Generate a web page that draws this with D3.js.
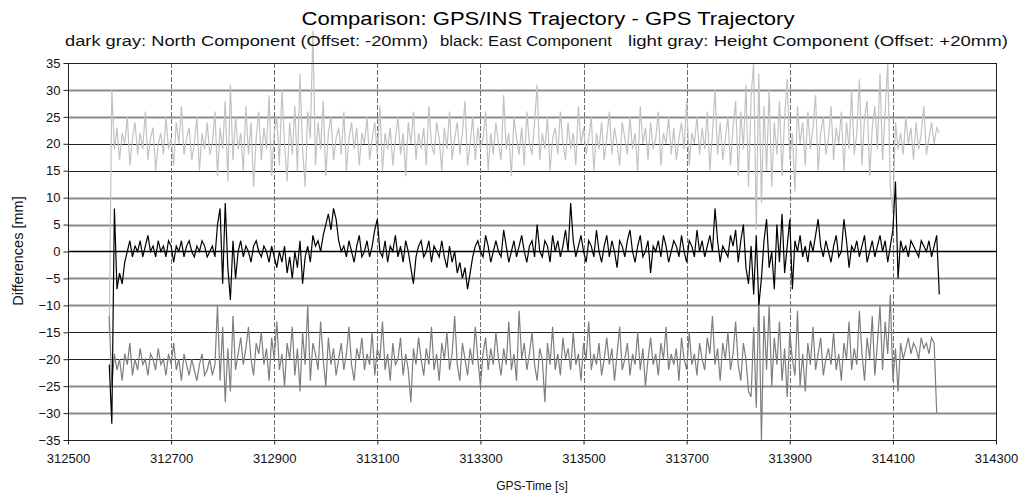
<!DOCTYPE html>
<html>
<head>
<meta charset="utf-8">
<script src="https://cdn.jsdelivr.net/npm/d3@7"></script>
<style>
  html, body { margin: 0; padding: 0; background: #fff; }
  svg { display: block; font-family: "Liberation Sans", Arial, sans-serif; }
</style>
</head>
<body>
<svg id="chart" width="1030" height="497"></svg>
<script>
// ---------- data ----------
const titleText = "Comparison: GPS/INS Trajectory - GPS Trajectory";
const subtitleParts = [
  "dark gray: North Component (Offset: -20mm)",
  "black: East Component",
  "light gray: Height Component (Offset: +20mm)"
];
const xTickValues = [312500, 312700, 312900, 313100, 313300, 313500, 313700, 313900, 314100, 314300];
const yTickValues = [-35, -30, -25, -20, -15, -10, -5, 0, 5, 10, 15, 20, 25, 30, 35];
const xLabel = "GPS-Time [s]";
const yLabel = "Differences [mm]";

// sampling epochs (s): first epoch and interval of the plotted samples
const epochStart = 312580;
const epochStep = 5;

// East component (black), mm
const eastValues = [
  -21, -32, 8, -7, -4, -6, -2, 0, 2, -1,
  1, 0, 2, -1, 1, 3, 0, 1, -1, 2,
  0, 1, -1, 2, 1, -2, 1, 0, 2, -1,
  1, 2, 0, -1, 1, 0, 2, 1, -1, 0,
  1, -1, 5, 8, -6, 9, -3, -9, 2, -5,
  0, 2, -1, 1, 0, -2, 1, 2, 0, -1,
  1, 0, -2, 1, -1, -3, 0, -2, 1, -4,
  -1, -5, 0, -3, 2, -6, -1, 1, -2, 3,
  1, 2, 0, 3, 5, 7, 4, 8, 6, 2,
  0, 1, -1, 2, 0, -2, 1, 3, -1, 0,
  2, -1, 1, 4, 6, 0, -1, 2, -2, 1,
  0, 3, -1, 1, -2, 2, 0, -3, -6, -1,
  1, 2, -1, 0, 2, -2, 1, 0, -1, 2,
  -1, -3, 1, -2, 0, -4, -2, -5, -3, -7,
  -4, -1, 1, 2, 0, -1, 3, 1, -2, 0,
  2, 0, -1, 4, 1, -2, 0, 2, -1, 1,
  3, 0, -2, 1, 2, -1, 5, 0, -1, 2,
  1, -2, 3, 0, 2, -1, 1, 4, 0, 9,
  2, -1, 1, 3, 0, -2, 2, 1, -1, 4,
  0, -2, 1, 3, -1, 2, 0, -3, 2, 1,
  -1, 2, 4, 0, -2, 1, 3, -1, 0, 2,
  -4, 1, 0, 2, -1, 3, 1, -2, 0, 2,
  1, -1, 3, 0, -2, 2, 1, -1, 4, 0,
  2, -1, 1, 3, 0, 8, 2, -2, 1, 0,
  -1, 3, 1, 4, -2, 2, 5, -3, -6, 1,
  -8, 3, -10, -5, 2, 6, -3, 0, -7, 5,
  -2, 7, -4, 1, 6, -7, 2, 0, 3, -1,
  1, -2, 2, 0, 3, 6, 1, -1, 2, 0,
  -2, 1, 3, -1, 0, 6, 2, -3, 1, 0,
  2, -1, 1, 3, -2, 0, 2, -1, 1, 3,
  0, 2, -2, 1, 4, 13, -5, 2, 0, 1,
  -1, 2, 1, 0, -1, 2, 1, 0, 2, -1,
  1, 3, -8
];

// North component (dark gray), mm, plotted with -20 mm offset
const northValues = [
  -12, -25, -19, -22, -20, -24, -19, -21, -17, -23,
  -20, -22, -18, -21, -20, -23, -19, -20, -22, -18,
  -21, -20, -23, -19, -21, -17, -22, -20, -24, -19,
  -21, -23, -20, -22, -24, -21, -19, -23, -22, -20,
  -23, -21, -10, -24, -14, -28, -18, -26, -12, -22,
  -19, -16, -21, -18, -14, -20, -23, -17, -19, -15,
  -21, -18, -24, -16, -20, -13, -22, -19, -25, -17,
  -20, -14, -23, -18, -26, -15, -21, -10, -24, -17,
  -19, -22, -13, -20, -25, -16, -21, -18, -23, -20,
  -17, -22, -19, -14, -21, -24, -18, -20, -16, -22,
  -19, -21, -15, -23, -18, -20, -13, -22, -19, -24,
  -17, -21, -20, -16, -23, -19, -22, -28, -18, -21,
  -16, -20, -23, -18, -21, -14, -22, -19, -24, -17,
  -20, -15, -22, -19, -12, -21, -24, -17, -20, -23,
  -18, -21, -14, -20, -25, -19, -16, -22, -18, -21,
  -15, -20, -23, -18, -21, -13, -22, -19, -24, -11,
  -20, -17, -22, -19, -15, -21, -24, -18, -20, -28,
  -17, -21, -14, -22, -19, -23, -16, -20, -18, -22,
  -15, -21, -19, -24, -17, -20, -13, -22, -19, -21,
  -17, -23, -20, -16, -21, -18, -24, -19, -14, -22,
  -20, -17, -23, -19, -21, -15, -22, -18, -25, -20,
  -16, -21, -19, -23, -17, -20, -14, -22, -19, -21,
  -18, -24, -16, -20, -22, -15, -21, -19, -23, -17,
  -20, -22, -16, -19, -12, -21, -18, -24, -17, -20,
  -15, -22, -19, -13, -21, -24, -17, -20, -26, -27,
  -14, -29, -8, -35, -12, -22, -10, -25, -16, -21,
  -13, -24, -18, -27, -15, -20, -23, -11, -25, -19,
  -26, -17, -21, -14, -22, -19, -16, -23, -20, -18,
  -21, -15, -22, -19, -24, -17, -20, -13, -22, -18,
  -21, -11, -19, -24, -16, -20, -12, -23, -17, -10,
  -22, -13, -19, -8, -24, -18, -26, -17, -20, -18,
  -16, -19, -17, -18, -20, -16, -18, -17, -19, -16,
  -17, -30
];

// Height component (light gray), mm, plotted with +20 mm offset
const heightValues = [
  -15, 30, 19, 23, 17, 22, 20, 25, 16, 21,
  24, 18, 22, 19, 26, 17, 21, 23, 15, 20,
  22, 18, 25, 19, 21, 16, 24, 20, 27, 18,
  21, 23, 17, 20, 25, 15, 22, 19, 24, 18,
  20, 26, 14, 23, 19, 28, 13, 31, 17, 25,
  19, 22, 15, 27, 18, 24, 12, 21, 26, 17,
  23, 19, 29, 14, 22, 25, 16, 30, 20, 13,
  24, 18, 27, 15, 33, 19, 12, 26, 21, 41,
  16, 24, 19, 28, 14, 22, 25, 17, 21, 23,
  18, 26, 15, 21, 24, 19, 23, 16, 22, 20,
  25, 17, 21, 24, 18, 27, 15, 22, 19, 23,
  16, 21, 25, 18, 22, 14, 24, 20, 26, 17,
  22, 19, 23, 16, 27, 20, 18, 24, 21, 15,
  23, 19, 26, 17, 21, 24, 18, 22, 28, 16,
  20, 25, 17, 23, 19, 21, 26, 15, 22, 18,
  24, 20, 17, 29, 19, 22, 14, 25, 21, 18,
  23, 16, 26, 20, 18, 24, 31, 17, 22, 19,
  25, 15, 21, 23, 18, 26, 20, 17, 24, 19,
  22, 16, 27, 20, 23, 18, 21, 25, 15, 22,
  19, 24, 17, 21, 26, 18, 23, 20, 16, 24,
  21, 18, 25, 19, 22, 15, 27, 20, 23, 17,
  24, 19, 21, 26, 16, 22, 20, 25, 18, 23,
  17, 21, 24, 19, 28, 16, 22, 20, 25, 18,
  23, 19, 26, 15, 22, 30, 18, 24, 17, 21,
  25, 16, 23, 28, 14, 26, 19, 31, 12, 29,
  35, 4, 33, 9, 27, 15, 30, 12, 24, 18,
  28, 14, 25, 32, 17, 22, 11, 27, 20, 24,
  16, 26, 19, 23, 29, 15, 22, 25, 18, 21,
  27, 17, 23, 20, 26, 15, 24, 19, 30, 18,
  22, 32, 16, 25, 28, 14, 23, 27, 19, 33,
  17, 26, 35, 12, 7, 24, 19, 22, 18, 25,
  20, 23, 17, 24, 19, 22, 27, 18, 21, 24,
  20, 23, 22
];

// ---------- drawing ----------
const svg = d3.select("#chart");
const plot = { left: 68, right: 996, top: 63, bottom: 440 };

const x = d3.scaleLinear().domain([312500, 314300]).range([plot.left, plot.right]);
const y = d3.scaleLinear().domain([-35, 35]).range([plot.bottom, plot.top]);

function fitWidth(sel, w) {
  sel.attr("textLength", w).attr("lengthAdjust", "spacingAndGlyphs");
}

// horizontal grid lines
const blackGrid = new Set([35, 20, 15, -15, -20, -35]);
svg.append("g").selectAll("line")
  .data(yTickValues.filter(v => v !== 0))
  .join("line")
  .attr("x1", plot.left).attr("x2", plot.right)
  .attr("y1", d => Math.round(y(d)) + 0.5).attr("y2", d => Math.round(y(d)) + 0.5)
  .attr("stroke", d => blackGrid.has(d) ? "#222" : "#8a8a8a")
  .attr("stroke-width", d => blackGrid.has(d) ? 1 : 2);

// vertical dashed grid lines
svg.append("g").selectAll("line")
  .data(xTickValues.slice(1, -1))
  .join("line")
  .attr("x1", d => Math.round(x(d)) + 0.5).attr("x2", d => Math.round(x(d)) + 0.5)
  .attr("y1", plot.top).attr("y2", plot.bottom)
  .attr("stroke", "#6e6e6e")
  .attr("stroke-width", 1)
  .attr("stroke-dasharray", "5,2");

// series
const epoch = i => epochStart + i * epochStep;
const lineGen = d3.line().x((d, i) => x(epoch(i))).y(d => y(d));

svg.append("path").datum(heightValues)
  .attr("d", lineGen).attr("fill", "none")
  .attr("stroke", "#c2c2c2").attr("stroke-width", 1.2);
svg.append("path").datum(northValues)
  .attr("d", lineGen).attr("fill", "none")
  .attr("stroke", "#7e7e7e").attr("stroke-width", 1.2);

// zero line
svg.append("line")
  .attr("x1", plot.left).attr("x2", plot.right)
  .attr("y1", y(0)).attr("y2", y(0))
  .attr("stroke", "#000").attr("stroke-width", 1.6);

svg.append("path").datum(eastValues)
  .attr("d", lineGen).attr("fill", "none")
  .attr("stroke", "#000").attr("stroke-width", 1.2);

// plot border
svg.append("rect")
  .attr("x", plot.left + 0.5).attr("y", plot.top + 0.5)
  .attr("width", plot.right - plot.left).attr("height", plot.bottom - plot.top)
  .attr("fill", "none").attr("stroke", "#222").attr("stroke-width", 1);

// axes
const yAxis = d3.axisLeft(y).tickValues(yTickValues).tickSize(5).tickPadding(3);
const gy = svg.append("g").attr("transform", `translate(${plot.left + 0.5},0)`).call(yAxis);
gy.select(".domain").remove();
gy.selectAll("text").attr("font-size", 13).attr("fill", "#111")
  .attr("font-family", "'Liberation Sans', Arial, sans-serif");
gy.selectAll("line").attr("stroke", "#222");

const xAxis = d3.axisBottom(x).tickValues(xTickValues).tickFormat(d3.format("d")).tickSize(4).tickPadding(9);
const gx = svg.append("g").attr("transform", `translate(0,${plot.bottom + 0.5})`).call(xAxis);
gx.select(".domain").remove();
gx.selectAll("text").attr("font-size", 13).attr("fill", "#111")
  .attr("font-family", "'Liberation Sans', Arial, sans-serif");
gx.selectAll("line").attr("stroke", "#222");

// titles
svg.append("text").text(titleText)
  .attr("x", 548).attr("y", 25).attr("text-anchor", "middle")
  .attr("font-size", 18).attr("fill", "#000")
  .call(fitWidth, 493);

const subPos = [[65, 428], [440, 612], [628, 1008]];
subtitleParts.forEach((s, i) => {
  svg.append("text").text(s)
    .attr("x", subPos[i][0]).attr("y", 46)
    .attr("font-size", 14).attr("fill", "#111")
    .call(fitWidth, subPos[i][1] - subPos[i][0]);
});

svg.append("text").text(xLabel)
  .attr("x", 532).attr("y", 490).attr("text-anchor", "middle")
  .attr("font-size", 12).attr("fill", "#111");

svg.append("text").text(yLabel)
  .attr("transform", "translate(23,251) rotate(-90)")
  .attr("text-anchor", "middle")
  .attr("font-size", 14.5).attr("fill", "#111");
</script>
</body>
</html>
